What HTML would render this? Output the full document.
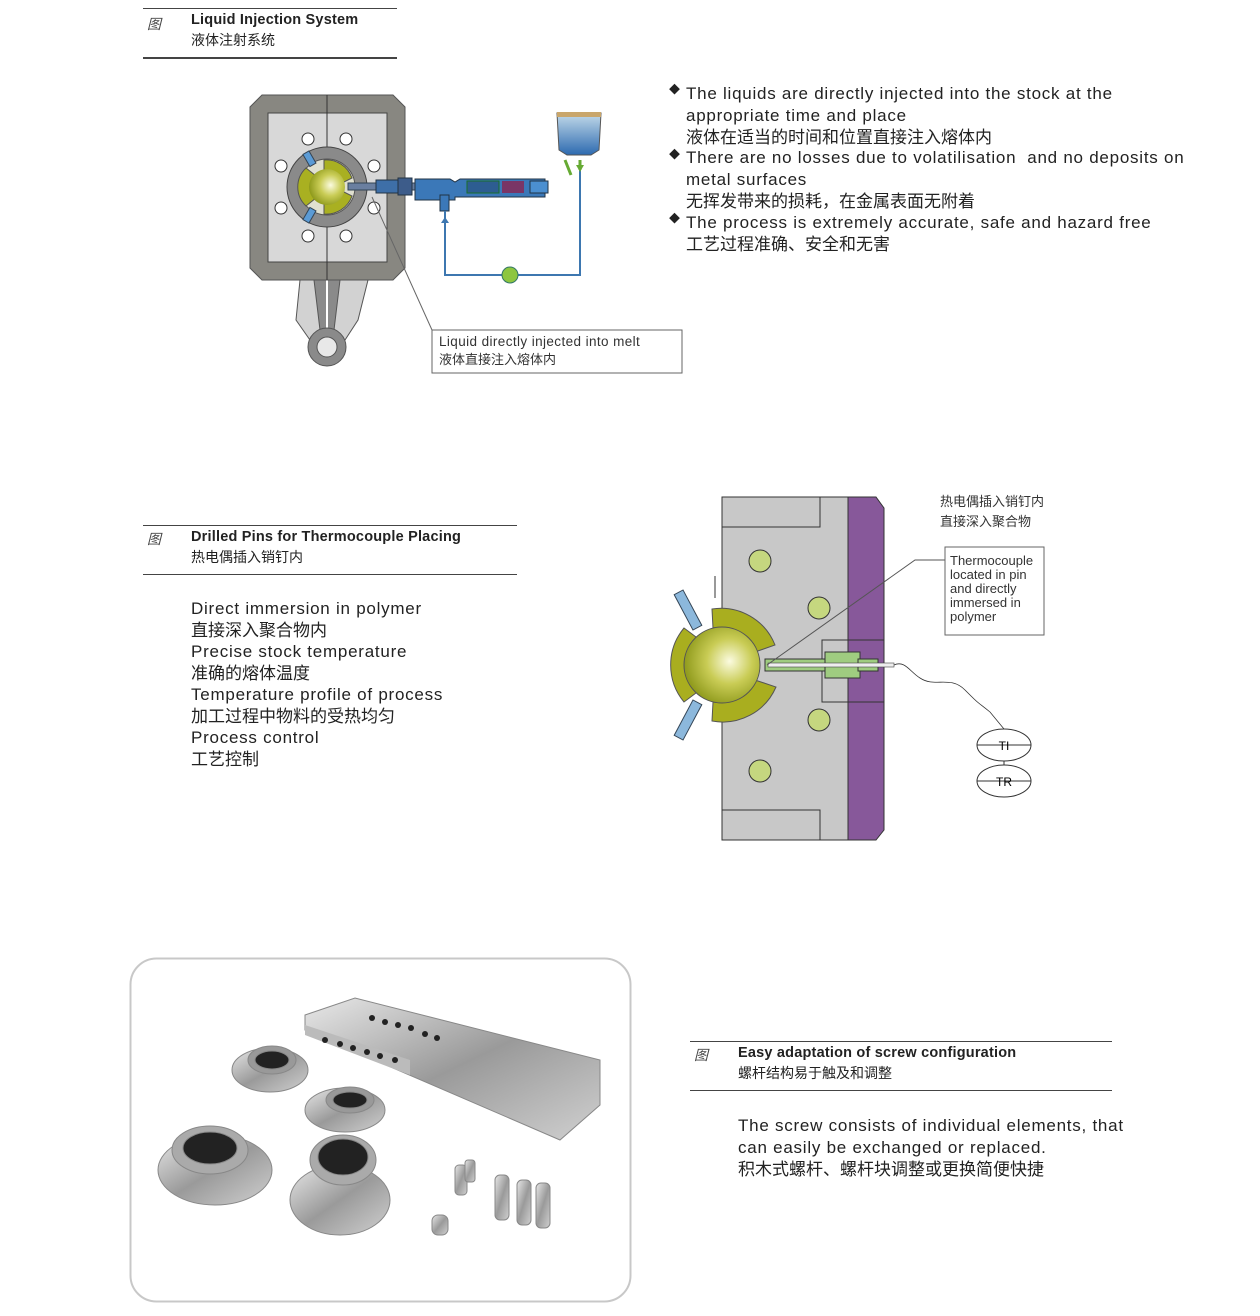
<!DOCTYPE html>
<html><head><meta charset="utf-8"><style>
body{margin:0;width:1260px;height:1316px;background:#fff;position:relative;overflow:hidden;font-family:"Liberation Sans","Noto Sans CJK SC",sans-serif;color:#222}
.t{position:absolute;white-space:nowrap;line-height:1}
.b{font-size:17px}
.e{letter-spacing:0.75px}
.h{font-size:14.5px;font-weight:bold;letter-spacing:0.2px}
.c{font-size:14px}
.fig{font-size:14px;font-style:italic;color:#444}
.ln{position:absolute;background:#444}
</style></head><body>
<!-- header 1 -->
<div class="ln" style="left:143px;top:8px;width:254px;height:1px"></div>
<div class="t fig" style="left:147px;top:17px">图</div>
<div class="t h" style="left:191px;top:13px">Liquid Injection System</div>
<div class="t c" style="left:191px;top:33px">液体注射系统</div>
<div class="ln" style="left:143px;top:57px;width:254px;height:2px"></div>

<!-- bullets -->
<div class="t b" style="left:669px;top:85px;font-size:11px">◆</div>
<div class="t b e" style="left:686px;top:85px">The liquids are directly injected into the stock at the</div>
<div class="t b e" style="left:686px;top:107px">appropriate time and place</div>
<div class="t b" style="left:686px;top:129px">液体在适当的时间和位置直接注入熔体内</div>
<div class="t b" style="left:669px;top:150px;font-size:11px">◆</div>
<div class="t b e" style="left:686px;top:149px">There are no losses due to volatilisation &nbsp;and no deposits on</div>
<div class="t b e" style="left:686px;top:171px">metal surfaces</div>
<div class="t b" style="left:686px;top:193px">无挥发带来的损耗，在金属表面无附着</div>
<div class="t b" style="left:669px;top:214px;font-size:11px">◆</div>
<div class="t b e" style="left:686px;top:214px">The process is extremely accurate, safe and hazard free</div>
<div class="t b" style="left:686px;top:236px">工艺过程准确、安全和无害</div>

<!-- header 2 -->
<div class="ln" style="left:143px;top:525px;width:374px;height:1px"></div>
<div class="t fig" style="left:147px;top:532px">图</div>
<div class="t h" style="left:191px;top:530px">Drilled Pins for Thermocouple Placing</div>
<div class="t c" style="left:191px;top:550px">热电偶插入销钉内</div>
<div class="ln" style="left:143px;top:574px;width:374px;height:1px"></div>
<div class="t b e" style="left:191px;top:600px">Direct immersion in polymer</div>
<div class="t b" style="left:191px;top:622px">直接深入聚合物内</div>
<div class="t b e" style="left:191px;top:643px">Precise stock temperature</div>
<div class="t b" style="left:191px;top:665px">准确的熔体温度</div>
<div class="t b e" style="left:191px;top:686px">Temperature profile of process</div>
<div class="t b" style="left:191px;top:708px">加工过程中物料的受热均匀</div>
<div class="t b e" style="left:191px;top:729px">Process control</div>
<div class="t b" style="left:191px;top:751px">工艺控制</div>

<!-- header 3 -->
<div class="ln" style="left:690px;top:1041px;width:422px;height:1px"></div>
<div class="t fig" style="left:694px;top:1048px">图</div>
<div class="t h" style="left:738px;top:1046px">Easy adaptation of screw configuration</div>
<div class="t c" style="left:738px;top:1066px">螺杆结构易于触及和调整</div>
<div class="ln" style="left:690px;top:1090px;width:422px;height:1px"></div>
<div class="t b e" style="left:738px;top:1117px">The screw consists of individual elements, that</div>
<div class="t b e" style="left:738px;top:1139px">can easily be exchanged or replaced.</div>
<div class="t b" style="left:738px;top:1161px">积木式螺杆、螺杆块调整或更换简便快捷</div>

<svg width="1260" height="1316" style="position:absolute;left:0;top:0" xmlns="http://www.w3.org/2000/svg">
<defs>
<radialGradient id="ball" cx="0.6" cy="0.45" r="0.6"><stop offset="0" stop-color="#fbfbe0"/><stop offset="0.5" stop-color="#c9cc55"/><stop offset="1" stop-color="#8f9a1c"/></radialGradient>
<linearGradient id="tank" x1="0" y1="0" x2="0" y2="1"><stop offset="0" stop-color="#c4dbea"/><stop offset="1" stop-color="#2d6ab0"/></linearGradient>
<linearGradient id="metal" x1="0" y1="0" x2="1" y2="1"><stop offset="0" stop-color="#e8e8e8"/><stop offset="0.5" stop-color="#9a9a9a"/><stop offset="1" stop-color="#d0d0d0"/></linearGradient>
</defs>
<!-- diagram 1 -->
<path d="M300 280 L368 280 L358 320 L345 340 L310 340 L296 320 Z" fill="#d2d2d2" stroke="#555"/>
<path d="M314 280 L340 280 L334 330 L320 330 Z" fill="#8a8a8a" stroke="#555"/>
<line x1="327" y1="280" x2="327" y2="330" stroke="#fff" stroke-width="2"/>
<circle cx="327" cy="347" r="19" fill="#8a8a8a" stroke="#555"/>
<circle cx="327" cy="347" r="10" fill="#e8e8e8" stroke="#555"/>
<polygon points="262,95 393,95 405,107 405,268 393,280 262,280 250,268 250,107" fill="#888781" stroke="#555"/>
<rect x="268" y="113" width="119" height="149" fill="#d8d8d8" stroke="#444"/>
<line x1="327" y1="95" x2="327" y2="280" stroke="#333"/>
<g fill="#fff" stroke="#333"><circle cx="308" cy="139" r="6"/><circle cx="346" cy="139" r="6"/><circle cx="281" cy="166" r="6"/><circle cx="374" cy="166" r="6"/><circle cx="281" cy="208" r="6"/><circle cx="374" cy="208" r="6"/><circle cx="308" cy="236" r="6"/><circle cx="346" cy="236" r="6"/></g>
<circle cx="327" cy="187" r="40" fill="#8a8a8a" stroke="#444"/>
<circle cx="327" cy="187" r="28" fill="#e0e0d0" stroke="#555"/>
<path d="M324 160 A27 27 0 0 1 352 178 L340 184 A14 14 0 0 0 324 172 Z M324 214 A27 27 0 0 0 352 196 L340 190 A14 14 0 0 1 324 202 Z M306 168 L316 176 L316 198 L306 206 A26 26 0 0 1 306 168Z" fill="#a9b021" stroke="#555"/>
<circle cx="327" cy="187" r="18" fill="url(#ball)"/>
<rect x="306" y="152" width="7" height="14" fill="#5b9bd5" transform="rotate(-30 309 159)" stroke="#345"/>
<rect x="306" y="208" width="7" height="14" fill="#5b9bd5" transform="rotate(30 309 215)" stroke="#345"/>
<rect x="348" y="183" width="70" height="7" fill="#6a7fa0" stroke="#345"/>
<rect x="376" y="180" width="30" height="13" fill="#3e6fa8" stroke="#234"/>
<rect x="398" y="178" width="14" height="17" fill="#3d5c8a" stroke="#234"/>
<path d="M415 179 L450 179 L455 182 L460 179 L545 179 L545 197 L455 197 L455 200 L415 200Z" fill="#3b78b8" stroke="#234"/>
<rect x="467" y="181" width="32" height="12" fill="#2d5d91" stroke="#1a6e2a"/>
<rect x="502" y="181" width="22" height="12" fill="#7a3566"/>
<rect x="530" y="181" width="18" height="12" fill="#4b8fd0" stroke="#234"/>
<rect x="440" y="195" width="9" height="16" fill="#3b78b8" stroke="#234"/>
<polyline points="445,211 445,275 580,275 580,160" fill="none" stroke="#3d77b0" stroke-width="2"/>
<polygon points="441,223 449,223 445,217" fill="#3d77b0"/>
<circle cx="510" cy="275" r="8" fill="#8dc63f" stroke="#376"/>
<path d="M557 113 L601 113 L599 150 L591 155 L567 155 L559 150Z" fill="url(#tank)" stroke="#555"/>
<rect x="557" y="112" width="44" height="5" fill="#c9a66b"/>
<path d="M565 160 L571 175 M580 160 L580 170" stroke="#6a3" stroke-width="3"/>
<polygon points="576,165 584,165 580,172" fill="#6a3"/>
<line x1="372" y1="197" x2="432" y2="330" stroke="#666"/>
<rect x="432" y="330" width="250" height="43" fill="#fff" stroke="#666"/>
<text x="439" y="346" font-size="13.5" fill="#333" font-family="Liberation Sans" letter-spacing="0.4">Liquid directly injected into melt</text>
<text x="439" y="364" font-size="13" fill="#333" font-family="Liberation Sans, Noto Sans CJK SC">液体直接注入熔体内</text>

<!-- diagram 2 -->
<path d="M848 497 L876 497 L884 508 L884 830 L876 840 L848 840Z" fill="#87589a" stroke="#333"/>
<rect x="722" y="497" width="126" height="343" fill="#c8c8c8" stroke="#333"/>
<rect x="722" y="497" width="98" height="30" fill="#c8c8c8" stroke="#333"/>
<rect x="722" y="810" width="98" height="30" fill="#c8c8c8" stroke="#333"/>
<rect x="822" y="640" width="62" height="62" fill="none" stroke="#333"/>
<g fill="#c5d77f" stroke="#333"><circle cx="760" cy="561" r="11"/><circle cx="819" cy="608" r="11"/><circle cx="819" cy="720" r="11"/><circle cx="760" cy="771" r="11"/></g>
<path d="M712 609 A58 58 0 0 1 775 645 L755 652 A38 38 0 0 0 713 628Z M712 721 A58 58 0 0 0 776 687 L755 680 A38 38 0 0 1 713 702Z M684 628 L700 640 L700 690 L684 702 A58 58 0 0 1 684 628Z" fill="#a9ae1f" stroke="#555"/>
<circle cx="722" cy="665" r="38" fill="url(#ball)" stroke="#555"/>
<rect x="683" y="590" width="10" height="40" fill="#8cb8dc" stroke="#345" transform="rotate(-28 688 610)"/>
<rect x="683" y="700" width="10" height="40" fill="#8cb8dc" stroke="#345" transform="rotate(28 688 720)"/>
<line x1="715" y1="576" x2="715" y2="598" stroke="#333"/>
<rect x="765" y="659" width="62" height="12" fill="#9fcc80" stroke="#333"/>
<rect x="825" y="652" width="35" height="26" fill="#9fcc80" stroke="#333"/>
<rect x="858" y="659" width="20" height="12" fill="#9fcc80" stroke="#333"/>
<rect x="768" y="663" width="126" height="4" fill="#eee" stroke="#444" stroke-width="0.6"/>
<path d="M894 665 C905 660 910 672 920 678 C935 688 950 675 965 690 C980 705 975 700 990 712 L1004 729" fill="none" stroke="#333" stroke-width="0.8"/>
<ellipse cx="1004" cy="745" rx="27" ry="16" fill="#fff" stroke="#333"/>
<ellipse cx="1004" cy="781" rx="27" ry="16" fill="#fff" stroke="#333"/>
<line x1="977" y1="745" x2="1031" y2="745" stroke="#333"/><line x1="977" y1="781" x2="1031" y2="781" stroke="#333"/>
<line x1="1004" y1="761" x2="1004" y2="765" stroke="#333"/>
<text x="1004" y="750" font-size="12" text-anchor="middle" font-family="Liberation Sans">TI</text>
<text x="1004" y="786" font-size="12" text-anchor="middle" font-family="Liberation Sans">TR</text>
<polyline points="767,665 915,560 945,560" fill="none" stroke="#555"/>
<rect x="945" y="547" width="99" height="88" fill="#fff" stroke="#666"/>
<g font-size="13" fill="#333" font-family="Liberation Sans"><text x="950" y="565">Thermocouple</text><text x="950" y="579">located in pin</text><text x="950" y="593">and directly</text><text x="950" y="607">immersed in</text><text x="950" y="621">polymer</text></g>
<g font-size="13" fill="#333" font-family="Liberation Sans, Noto Sans CJK SC"><text x="940" y="506">热电偶插入销钉内</text><text x="940" y="526">直接深入聚合物</text></g>

<!-- photo -->
<rect x="130.5" y="958.5" width="500" height="343" rx="26" fill="#fff" stroke="#c8c8c8" stroke-width="2"/>
<polygon points="305,1015 355,998 600,1060 600,1105 560,1140 305,1030" fill="url(#metal)" stroke="#888"/>
<polygon points="305,1025 410,1060 410,1075 305,1035" fill="#bbb"/>
<g fill="#222"><circle cx="372" cy="1018" r="3"/><circle cx="385" cy="1022" r="3"/><circle cx="398" cy="1025" r="3"/><circle cx="411" cy="1028" r="3"/><circle cx="425" cy="1034" r="3"/><circle cx="437" cy="1038" r="3"/><circle cx="325" cy="1040" r="3"/><circle cx="340" cy="1044" r="3"/><circle cx="353" cy="1048" r="3"/><circle cx="367" cy="1052" r="3"/><circle cx="380" cy="1056" r="3"/><circle cx="395" cy="1060" r="3"/></g>
<g stroke="#888" fill="url(#metal)">
<ellipse cx="270" cy="1070" rx="38" ry="22"/><ellipse cx="272" cy="1060" rx="24" ry="14" fill="#999"/><ellipse cx="272" cy="1060" rx="17" ry="9" fill="#222"/>
<ellipse cx="345" cy="1110" rx="40" ry="22"/><ellipse cx="350" cy="1100" rx="24" ry="13" fill="#999"/><ellipse cx="350" cy="1100" rx="17" ry="8" fill="#222"/>
<ellipse cx="215" cy="1170" rx="57" ry="35"/><ellipse cx="210" cy="1150" rx="38" ry="24" fill="#aaa"/><ellipse cx="210" cy="1148" rx="27" ry="16" fill="#222"/>
<ellipse cx="340" cy="1200" rx="50" ry="35"/><ellipse cx="343" cy="1160" rx="33" ry="25" fill="#aaa"/><ellipse cx="343" cy="1157" rx="25" ry="18" fill="#222"/>
<rect x="455" y="1165" width="12" height="30" rx="4"/><rect x="465" y="1160" width="10" height="22" rx="3"/>
<rect x="432" y="1215" width="16" height="20" rx="6"/>
<rect x="495" y="1175" width="14" height="45" rx="5"/><rect x="517" y="1180" width="14" height="45" rx="5"/><rect x="536" y="1183" width="14" height="45" rx="5"/>
</g>
</svg>
</body></html>
